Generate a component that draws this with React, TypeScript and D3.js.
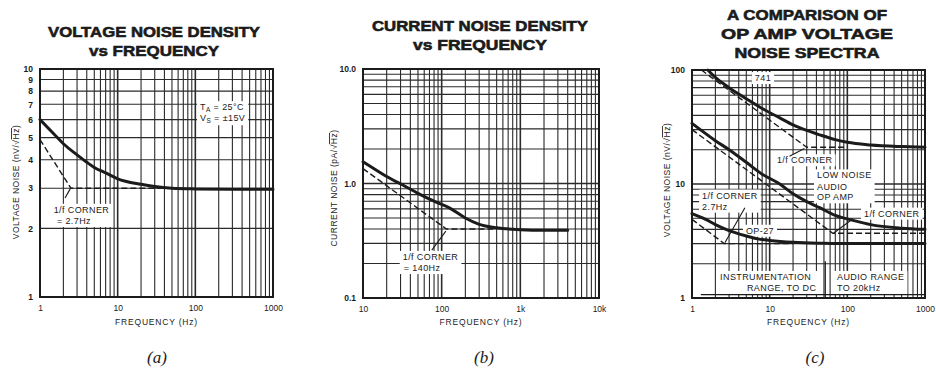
import { useEffect, useRef } from "react";
import * as d3 from "d3";

// ---------- panel (a): voltage noise density ----------
const aFreq = [1, 1.5, 2, 3, 4, 5, 7, 10, 20, 30, 50, 100, 300, 1000];
const aNoise = [6.0, 5.2, 4.7, 4.2, 3.9, 3.7, 3.5, 3.3, 3.12, 3.05, 3.0, 2.98, 2.97, 2.97];
const aAsymFreq = [1, 2.5, 40];
const aAsymNoise = [4.9, 3.0, 3.0];
const aYTicks = [1, 2, 3, 4, 5, 6, 7, 8, 9, 10];
const aXTicks = [1, 10, 100, 1000];
const aXTickLabels = ["1", "10", "100", "1000"];

// ---------- panel (b): current noise density ----------
const bFreq = [10, 15, 20, 32, 50, 80, 127, 200, 300, 500, 1000, 2000, 4000];
const bNoise = [1.55, 1.3, 1.15, 0.97, 0.82, 0.7, 0.61, 0.5, 0.44, 0.41, 0.395, 0.39, 0.39];
const bAsymFreq = [10, 115, 500];
const bAsymNoise = [1.35, 0.4, 0.4];
const bYTicks = [0.1, 1, 10];
const bYTickLabels = ["0.1", "1.0", "10.0"];
const bXTicks = [10, 100, 1000, 10000];
const bXTickLabels = ["10", "100", "1k", "10k"];

// ---------- panel (c): op amp comparison ----------
const c741Freq = [1.6, 2, 3, 5, 8, 13.5, 20, 30, 44, 70, 100, 200, 500, 1000];
const c741Noise = [100, 86, 70, 56, 46, 38, 33, 29.5, 27, 24.5, 23.2, 22, 21.3, 21];
const c741AsymFreq = [1.32, 30, 100];
const c741AsymNoise = [100, 21, 21];
const cAudioFreq = [1, 2, 3.1, 5, 8, 13.5, 20, 30, 44, 70, 118, 200, 500, 1000];
const cAudioNoise = [34, 24, 19.7, 15.5, 12.2, 10, 8.2, 7, 6.2, 5.3, 4.8, 4.4, 4.1, 4.0];
const cAudioAsymFreq = [1, 65, 1000];
const cAudioAsymNoise = [30, 3.7, 3.7];
const cOp27Freq = [1, 1.5, 2, 3, 5, 7, 10, 20, 50, 100, 1000];
const cOp27Noise = [5.5, 4.9, 4.4, 3.9, 3.5, 3.3, 3.2, 3.08, 3.02, 3.0, 3.0];
const cOp27AsymFreq = [1, 2.6, 20];
const cOp27AsymNoise = [4.9, 3.0, 3.0];
const cYTicks = [1, 10, 100];
const cXTicks = [1, 10, 100, 1000];
const cXTickLabels = ["1", "10", "100", "1000"];

type Note = { text: string; f: number; v: number; anchor?: string; sub?: string; rest?: string };
type Pointer = { from: [number, number]; to: [number, number] };

interface Panel {
  left: number;
  right: number;
  top: number;
  bottom: number;
  xDomain: [number, number];
  yDomain: [number, number];
  xTicks: number[];
  xTickLabels: string[];
  yTicks: number[];
  yTickLabels: string[];
  yLabel: string;
  yLabelX: number;
  yLabelY: number;
  title: string[];
  titleWidths: number[];
  titleX: number;
  titleY: number;
  curves: [number[], number[]][];
  asymptotes: [number[], number[]][];
  notes: Note[][];
  pointers: Pointer[];
  caption: string;
  captionX: number;
}

const panels: Panel[] = [
  {
    left: 40, right: 273, top: 69, bottom: 297,
    xDomain: [1, 1000], yDomain: [1, 10],
    xTicks: aXTicks, xTickLabels: aXTickLabels,
    yTicks: aYTicks, yTickLabels: aYTicks.map(String),
    yLabel: "VOLTAGE NOISE (nV/", yLabelX: 19, yLabelY: 182,
    title: ["VOLTAGE NOISE DENSITY", "vs FREQUENCY"], titleWidths: [212, 130],
    titleX: 154, titleY: 37,
    curves: [[aFreq, aNoise]],
    asymptotes: [[aAsymFreq, aAsymNoise]],
    notes: [
      [
        { text: "T", sub: "A", rest: " = 25°C", f: 115, v: 6.6 },
        { text: "V", sub: "S", rest: " = ±15V", f: 115, v: 5.9 },
      ],
      [
        { text: "1/f CORNER", f: 1.5, v: 2.34 },
        { text: "= 2.7Hz", f: 1.65, v: 2.09 },
      ],
    ],
    pointers: [{ from: [2.1, 2.72], to: [2.45, 2.98] }],
    caption: "(a)", captionX: 157,
  },
  {
    left: 363, right: 599, top: 69, bottom: 298,
    xDomain: [10, 10000], yDomain: [0.1, 10],
    xTicks: bXTicks, xTickLabels: bXTickLabels,
    yTicks: bYTicks, yTickLabels: bYTickLabels,
    yLabel: "CURRENT NOISE (pA/", yLabelX: 337, yLabelY: 188,
    title: ["CURRENT NOISE DENSITY", "vs FREQUENCY"], titleWidths: [216, 134],
    titleX: 480, titleY: 31,
    curves: [[bFreq, bNoise]],
    asymptotes: [[bAsymFreq, bAsymNoise]],
    notes: [
      [
        { text: "1/f CORNER", f: 32, v: 0.215 },
        { text: "= 140Hz", f: 33, v: 0.172 },
      ],
    ],
    pointers: [{ from: [75, 0.262], to: [113, 0.384] }],
    caption: "(b)", captionX: 484,
  },
  {
    left: 692, right: 925, top: 70, bottom: 298,
    xDomain: [1, 1000], yDomain: [1, 100],
    xTicks: cXTicks, xTickLabels: cXTickLabels,
    yTicks: cYTicks, yTickLabels: cYTicks.map(String),
    yLabel: "VOLTAGE NOISE (nV/", yLabelX: 670, yLabelY: 180,
    title: ["A COMPARISON OF", "OP AMP VOLTAGE", "NOISE SPECTRA"], titleWidths: [160, 172, 145],
    titleX: 807, titleY: 20,
    curves: [[c741Freq, c741Noise], [cAudioFreq, cAudioNoise], [cOp27Freq, cOp27Noise]],
    asymptotes: [
      [c741AsymFreq, c741AsymNoise],
      [cAudioAsymFreq, cAudioAsymNoise],
      [cOp27AsymFreq, cOp27AsymNoise],
    ],
    notes: [
      [{ text: "741", f: 8.2, v: 80, anchor: "middle" }],
      [{ text: "1/f CORNER", f: 12.4, v: 15.2 }],
      [
        { text: "LOW NOISE", f: 40.7, v: 11.2 },
        { text: "AUDIO", f: 40.7, v: 8.9 },
        { text: "OP AMP", f: 40.7, v: 7.2 },
      ],
      [
        { text: "1/f CORNER", f: 1.35, v: 7.45 },
        { text: "2.7Hz", f: 1.35, v: 5.96 },
      ],
      [{ text: "1/f CORNER", f: 164, v: 5.17 }],
      [{ text: "OP-27", f: 7.5, v: 3.66, anchor: "middle" }],
      [
        { text: "INSTRUMENTATION", f: 2.3, v: 1.44 },
        { text: "RANGE, TO DC", f: 40, v: 1.15, anchor: "end" },
      ],
      [
        { text: "AUDIO RANGE", f: 73.6, v: 1.44 },
        { text: "TO 20kHz", f: 73.6, v: 1.15 },
      ],
    ],
    pointers: [
      { from: [18, 17.5], to: [28, 20.5] },
      { from: [4.8, 6.2], to: [2.65, 3.05] },
      { from: [118, 4.96], to: [67, 3.72] },
    ],
    caption: "(c)", captionX: 815,
  },
];

// range bar + divider for panel (c)
const rangeBarFreq = [1.3, 1000];
const rangeBarLevel = 1.07;
const rangeDividerFreq = 52;
const rangeDividerLevels = [1.0, 2.1];

const INK = "#1b1b1b";
const FONT = "'Liberation Sans', Arial, sans-serif";

export default function App() {
  const svgRef = useRef<SVGSVGElement>(null);

  useEffect(() => {
    if (!svgRef.current) return;
    const svg = d3.select(svgRef.current);
    svg.selectAll("*").remove();

    svg.append("rect").attr("width", 936).attr("height", 375).attr("fill", "#fff");

    panels.forEach((p, pi) => {
      const x = d3.scaleLog().domain(p.xDomain).range([p.left, p.right]);
      const y = d3.scaleLog().domain(p.yDomain).range([p.bottom, p.top]);
      const g = svg.append("g");

      // Title
      p.title.forEach((t, i) => {
        g.append("text")
          .attr("x", p.titleX)
          .attr("y", p.titleY + i * 19)
          .attr("text-anchor", "middle")
          .attr("font-family", FONT)
          .attr("font-weight", "bold")
          .attr("font-size", 15)
          .attr("fill", INK)
          .attr("stroke", INK)
          .attr("stroke-width", 0.6)
          .attr("textLength", p.titleWidths[i])
          .attr("lengthAdjust", "spacingAndGlyphs")
          .text(t);
      });

      // Grid
      const grid = g.append("g");
      const isDecade = (v: number) => Math.abs(Math.log10(v) - Math.round(Math.log10(v))) < 1e-6;
      x.ticks().forEach((t) => {
        grid.append("line")
          .attr("x1", x(t)).attr("x2", x(t))
          .attr("y1", p.top).attr("y2", p.bottom)
          .attr("stroke", "#2a2a2a")
          .attr("stroke-width", isDecade(t) ? 1.6 : 1.1);
      });
      y.ticks().forEach((t) => {
        grid.append("line")
          .attr("x1", p.left).attr("x2", p.right)
          .attr("y1", y(t)).attr("y2", y(t))
          .attr("stroke", "#2a2a2a")
          .attr("stroke-width", isDecade(t) ? 1.6 : 1.1);
      });

      const bgLayer = g.append("g");
      const curveLayer = g.append("g");
      const textLayer = g.append("g");

      // extra range bar in panel (c)
      if (pi === 2) {
        curveLayer.append("line")
          .attr("x1", x(rangeBarFreq[0])).attr("x2", x(rangeBarFreq[1]))
          .attr("y1", y(rangeBarLevel)).attr("y2", y(rangeBarLevel))
          .attr("stroke", INK).attr("stroke-width", 1.2);
        curveLayer.append("line")
          .attr("x1", x(rangeDividerFreq)).attr("x2", x(rangeDividerFreq))
          .attr("y1", y(rangeDividerLevels[0])).attr("y2", y(rangeDividerLevels[1]))
          .attr("stroke", INK).attr("stroke-width", 1.2);
      }

      const line = d3
        .line<[number, number]>()
        .x((d) => x(d[0]))
        .y((d) => y(d[1]))
        .curve(d3.curveMonotoneX);

      p.asymptotes.forEach(([fs, vs]) => {
        curveLayer.append("path")
          .datum(fs.map((f, i) => [f, vs[i]] as [number, number]))
          .attr("fill", "none")
          .attr("stroke", INK)
          .attr("stroke-width", 1.4)
          .attr("stroke-dasharray", "6,3")
          .attr("d", d3.line<[number, number]>().x((d) => x(d[0])).y((d) => y(d[1])));
      });

      p.curves.forEach(([fs, vs]) => {
        curveLayer.append("path")
          .datum(fs.map((f, i) => [f, vs[i]] as [number, number]))
          .attr("fill", "none")
          .attr("stroke", INK)
          .attr("stroke-width", 3)
          .attr("stroke-linecap", "round")
          .attr("d", line);
      });

      p.pointers.forEach((ptr) => {
        curveLayer.append("line")
          .attr("x1", x(ptr.from[0])).attr("y1", y(ptr.from[1]))
          .attr("x2", x(ptr.to[0])).attr("y2", y(ptr.to[1]))
          .attr("stroke", INK).attr("stroke-width", 1.1);
      });

      // Annotation text with white backing
      p.notes.forEach((block) => {
        const nodes: SVGTextElement[] = [];
        block.forEach((n) => {
          const t = textLayer.append("text")
            .attr("x", x(n.f))
            .attr("y", y(n.v))
            .attr("text-anchor", n.anchor ?? "start")
            .attr("font-family", FONT)
            .attr("font-size", 9)
            .attr("letter-spacing", 0.4)
            .attr("fill", INK);
          t.append("tspan").text(n.text);
          if (n.sub) {
            t.append("tspan").attr("dy", 2).attr("font-size", 6.5).text(n.sub);
            t.append("tspan").attr("dy", -2).text(n.rest ?? "");
          }
          nodes.push(t.node() as SVGTextElement);
        });
        const boxes = nodes.map((n) => n.getBBox());
        const x0 = d3.min(boxes, (b) => b.x)! - 3;
        const x1 = d3.max(boxes, (b) => b.x + b.width)! + 3;
        const y0 = d3.min(boxes, (b) => b.y)! - 1;
        const y1 = d3.max(boxes, (b) => b.y + b.height)! + 1;
        bgLayer.append("rect")
          .attr("x", x0).attr("y", y0)
          .attr("width", x1 - x0).attr("height", y1 - y0)
          .attr("fill", "#fff");
      });

      // Frame
      g.append("rect")
        .attr("x", p.left).attr("y", p.top)
        .attr("width", p.right - p.left).attr("height", p.bottom - p.top)
        .attr("fill", "none")
        .attr("stroke", INK)
        .attr("stroke-width", 2);

      // Axes (labels only)
      const yAxis = g.append("g")
        .attr("transform", `translate(${p.left - 4},0)`)
        .call(
          d3.axisLeft(y)
            .tickValues(p.yTicks)
            .tickSize(0)
            .tickFormat((_, i) => p.yTickLabels[i])
        );
      yAxis.select(".domain").remove();
      yAxis.selectAll("text")
        .attr("font-family", FONT)
        .attr("font-size", 8.5)
        .attr("font-weight", "bold")
        .attr("fill", INK);

      const xAxis = g.append("g")
        .attr("transform", `translate(0,${p.bottom + 5})`)
        .call(
          d3.axisBottom(x)
            .tickValues(p.xTicks)
            .tickSize(0)
            .tickFormat((_, i) => p.xTickLabels[i])
        );
      xAxis.select(".domain").remove();
      xAxis.selectAll("text")
        .attr("font-family", FONT)
        .attr("font-size", 8.5)
        .attr("fill", INK);

      g.append("text")
        .attr("x", (p.left + p.right) / 2)
        .attr("y", 325)
        .attr("text-anchor", "middle")
        .attr("font-family", FONT)
        .attr("font-size", 8.5)
        .attr("letter-spacing", 0.8)
        .attr("fill", INK)
        .text("FREQUENCY (Hz)");

      // Y label
      const yl = g.append("text")
        .attr("transform", `translate(${p.yLabelX},${p.yLabelY}) rotate(-90)`)
        .attr("text-anchor", "middle")
        .attr("font-family", FONT)
        .attr("font-size", 8.5)
        .attr("letter-spacing", 0.5)
        .attr("fill", INK);
      yl.append("tspan").text(p.yLabel + "√");
      yl.append("tspan").attr("text-decoration", "overline").text("Hz");
      yl.append("tspan").text(")");

      // Caption
      g.append("text")
        .attr("x", p.captionX)
        .attr("y", 363)
        .attr("text-anchor", "middle")
        .attr("font-family", "'Liberation Serif', 'Times New Roman', serif")
        .attr("font-style", "italic")
        .attr("font-size", 17)
        .attr("fill", INK)
        .text(p.caption);
    });
  }, []);

  return (
    <svg
      ref={svgRef}
      width={936}
      height={375}
      style={{ position: "absolute", left: 0, top: 0 }}
    />
  );
}
